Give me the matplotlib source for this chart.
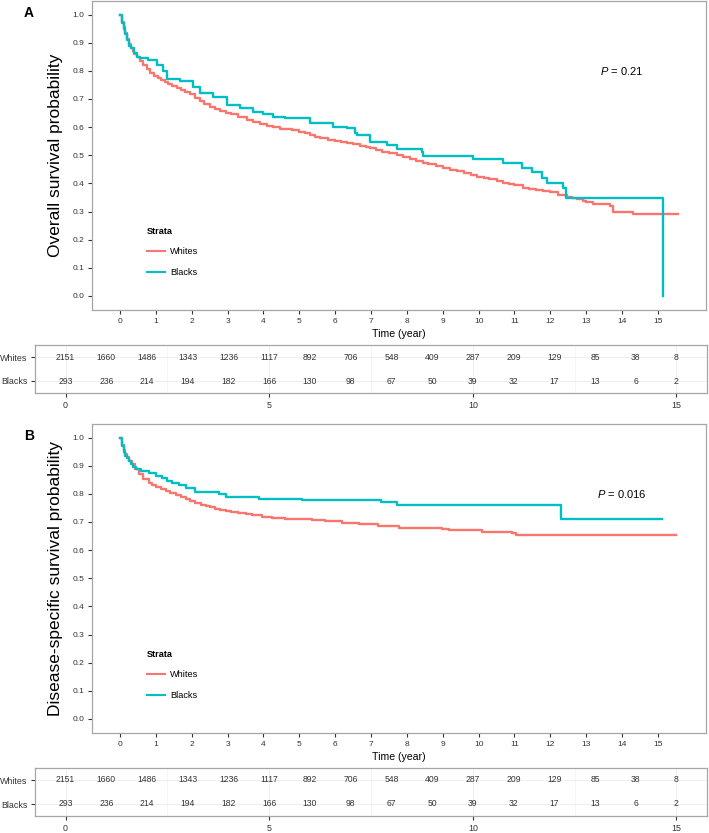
import matplotlib
matplotlib.use('Agg')
import matplotlib.pyplot as plt
import numpy as np

plt.rcParams['font.family'] = ['Liberation Sans', 'DejaVu Sans']
plt.rcParams['mathtext.fontset'] = 'custom'
plt.rcParams['mathtext.it'] = 'Liberation Sans:italic'
plt.rcParams['mathtext.rm'] = 'Liberation Sans'

# ---- data ----
groups = ['Whites', 'Blacks']
colors = ['#F8766D', '#00BFC4']

# panel A: overall survival (step points, time in years)
os_white_t = [0, 0.05, 0.1, 0.15, 0.2, 0.25, 0.3, 0.35, 0.4, 0.47, 0.55, 0.65, 0.75, 0.85,
              0.95, 1.05, 1.15, 1.25, 1.35, 1.45, 1.58, 1.7, 1.82, 1.95, 2.1, 2.23, 2.35,
              2.5, 2.65, 2.79, 2.95, 3.1, 3.3, 3.54, 3.7, 3.9, 4.1, 4.27, 4.45, 4.6, 4.8,
              5.0, 5.15, 5.3, 5.45, 5.58, 5.8, 6.0, 6.15, 6.32, 6.5, 6.69, 6.85, 6.97, 7.15,
              7.3, 7.5, 7.72, 7.9, 8.1, 8.25, 8.45, 8.6, 8.8, 9.0, 9.2, 9.4, 9.6, 9.8, 9.95,
              10.15, 10.3, 10.5, 10.68, 10.85, 11.0, 11.24, 11.4, 11.6, 11.8, 11.99, 12.2,
              12.46, 12.6, 12.74, 12.9, 13.0, 13.19, 13.66, 13.74, 14.3, 15.56]
os_white_s = [1.0, 0.975, 0.955, 0.935, 0.912, 0.895, 0.882, 0.87, 0.86, 0.85, 0.835, 0.82,
              0.805, 0.792, 0.782, 0.774, 0.767, 0.76, 0.753, 0.747, 0.74, 0.732, 0.725,
              0.716, 0.703, 0.692, 0.683, 0.673, 0.663, 0.656, 0.65, 0.645, 0.637, 0.627,
              0.618, 0.61, 0.605, 0.60, 0.595, 0.592, 0.588, 0.584, 0.578, 0.571, 0.565,
              0.56, 0.554, 0.55, 0.547, 0.544, 0.539, 0.534, 0.53, 0.526, 0.519, 0.513,
              0.507, 0.50, 0.494, 0.487, 0.481, 0.474, 0.468, 0.462, 0.455, 0.449, 0.443,
              0.436, 0.43, 0.424, 0.418, 0.414, 0.408, 0.403, 0.398, 0.393, 0.385, 0.381,
              0.376, 0.372, 0.368, 0.36, 0.353, 0.348, 0.343, 0.337, 0.335, 0.325, 0.318,
              0.30, 0.29, 0.29]
os_black_t = [0, 0.05, 0.1, 0.15, 0.2, 0.25, 0.3, 0.4, 0.47, 0.56, 0.79, 1.02, 1.2, 1.3,
              1.67, 2.04, 2.23, 2.6, 2.98, 3.35, 3.71, 4.0, 4.27, 4.6, 5.3, 5.94, 6.32, 6.55,
              6.6, 6.97, 7.44, 7.72, 8.42, 8.45, 9.84, 10.68, 11.2, 11.5, 11.76, 11.9,
              12.36, 12.43, 15.14, 15.14]
os_black_s = [1.0, 0.97, 0.95, 0.93, 0.91, 0.89, 0.88, 0.865, 0.85, 0.845, 0.84, 0.82, 0.80,
              0.77, 0.765, 0.742, 0.72, 0.707, 0.68, 0.667, 0.654, 0.645, 0.636, 0.632,
              0.614, 0.60, 0.597, 0.58, 0.572, 0.548, 0.537, 0.523, 0.512, 0.498, 0.487,
              0.473, 0.456, 0.44, 0.42, 0.40, 0.385, 0.347, 0.347, 0.0]

# panel B: disease-specific survival
dss_white_t = [0, 0.05, 0.1, 0.15, 0.2, 0.25, 0.33, 0.42, 0.53, 0.65, 0.8, 0.9, 1.0, 1.15,
               1.28, 1.4, 1.55, 1.7, 1.83, 1.95, 2.1, 2.25, 2.39, 2.5, 2.65, 2.8, 2.95, 3.1,
               3.3, 3.5, 3.69, 3.95, 4.25, 4.6, 4.99, 5.35, 5.73, 6.2, 6.66, 7.2, 7.78, 8.97,
               9.17, 10.1, 10.93, 11.03, 15.5]
dss_white_s = [1.0, 0.975, 0.955, 0.94, 0.93, 0.915, 0.905, 0.888, 0.87, 0.852, 0.837, 0.83,
               0.825, 0.816, 0.809, 0.802, 0.795, 0.788, 0.781, 0.775, 0.768, 0.762, 0.756,
               0.752, 0.747, 0.743, 0.739, 0.735, 0.731, 0.727, 0.724, 0.719, 0.714, 0.712,
               0.71, 0.707, 0.703, 0.697, 0.692, 0.685, 0.68, 0.674, 0.671, 0.665, 0.66,
               0.653, 0.653]
dss_black_t = [0, 0.05, 0.1, 0.15, 0.2, 0.25, 0.3, 0.37, 0.44, 0.6, 0.8, 1.0, 1.17, 1.3,
               1.45, 1.65, 1.83, 2.1, 2.76, 2.95, 3.87, 5.07, 7.28, 7.72, 12.3, 15.1]
dss_black_s = [1.0, 0.97, 0.95, 0.935, 0.926, 0.915, 0.905, 0.895, 0.887, 0.88, 0.873, 0.865,
               0.855, 0.846, 0.837, 0.83, 0.82, 0.806, 0.80, 0.788, 0.781, 0.777, 0.77, 0.76,
               0.71, 0.71]

risk_times = list(range(16))
risk_white = [2151, 1660, 1486, 1343, 1236, 1117, 892, 706, 548, 409, 287, 209, 129, 85, 38, 8]
risk_black = [293, 236, 214, 194, 182, 166, 130, 98, 67, 50, 39, 32, 17, 13, 6, 2]

W, H = 709, 833
FRAME = '#a6a6a6'
TXT = '#333333'


def px_axes(fig, l, t, r, b):
    return fig.add_axes([l / W, 1 - b / H, (r - l) / W, (b - t) / H])


def style_frame(ax):
    for s in ax.spines.values():
        s.set_color(FRAME)
        s.set_linewidth(0.9)


def km_panel(fig, off, curves, ylabel, ptext, letter):
    ax = px_axes(fig, 92, off + 0.5, 706, off + 310)
    for (t, s), c, g in zip(curves, colors, groups):
        ax.plot(t, s, drawstyle='steps-post', color=c, lw=1.7, label=g)
    ax.set_xlim(-0.78, 16.34)
    ax.set_ylim(-0.05, 1.05)
    ax.set_xticks(range(16))
    ax.set_yticks(np.arange(0, 1.01, 0.1))
    ax.set_yticklabels(['%.1f' % v for v in np.arange(0, 1.01, 0.1)])
    ax.tick_params(labelsize=6, colors=TXT, length=3, width=0.8, pad=2.5)
    style_frame(ax)
    ax.set_xlabel('Time (year)', fontsize=7.6, color='black', labelpad=3)
    ax.set_ylabel(ylabel, fontsize=12.5, color='black', labelpad=7)
    ax.text(14.0, 0.80, ptext, fontsize=8, ha='center', va='center')
    leg = ax.legend(title='Strata', loc='upper left', bbox_to_anchor=(0.082, 0.283),
                    frameon=False, fontsize=6.6, title_fontsize=6.6,
                    labelspacing=1.25, handlelength=2.0, handletextpad=0.55,
                    borderpad=0, alignment='left')
    leg.get_title().set_fontweight('bold')
    for line in leg.get_lines():
        line.set_linewidth(1.5)
    fig.text(29 / W, 1 - (off + 13) / H, letter, fontsize=10, fontweight='bold',
             ha='center', va='center')

    tb = px_axes(fig, 35, off + 345, 707, off + 393)
    tb.set_xlim(-0.75, 15.75)
    tb.set_ylim(0.5, 2.5)
    for i in risk_times:
        tb.text(i, 2, str(risk_white[i]), fontsize=6.2, ha='center', va='center', color=TXT)
        tb.text(i, 1, str(risk_black[i]), fontsize=6.2, ha='center', va='center', color=TXT)
    tb.set_xticks([0, 5, 10, 15])
    tb.set_xticks([2.5, 7.5, 12.5], minor=True)
    tb.set_yticks([2, 1])
    tb.set_yticklabels(groups)
    tb.grid(True, which='major', color='#ebebeb', lw=0.6)
    tb.grid(True, which='minor', axis='x', color='#f3f3f3', lw=0.5)
    tb.set_axisbelow(True)
    tb.tick_params(which='major', labelsize=6.4, colors=TXT, length=3, width=0.8, pad=2.5)
    tb.tick_params(which='minor', length=0)
    style_frame(tb)
    return ax


fig = plt.figure(figsize=(W / 100, H / 100), dpi=100)

km_panel(fig, 0, [(os_white_t, os_white_s), (os_black_t, os_black_s)],
         'Overall survival probability', r'$P$ = 0.21', 'A')
km_panel(fig, 423, [(dss_white_t, dss_white_s), (dss_black_t, dss_black_s)],
         'Disease-specific survival probability', r'$P$ = 0.016', 'B')

fig.savefig('out.png', dpi=100)
